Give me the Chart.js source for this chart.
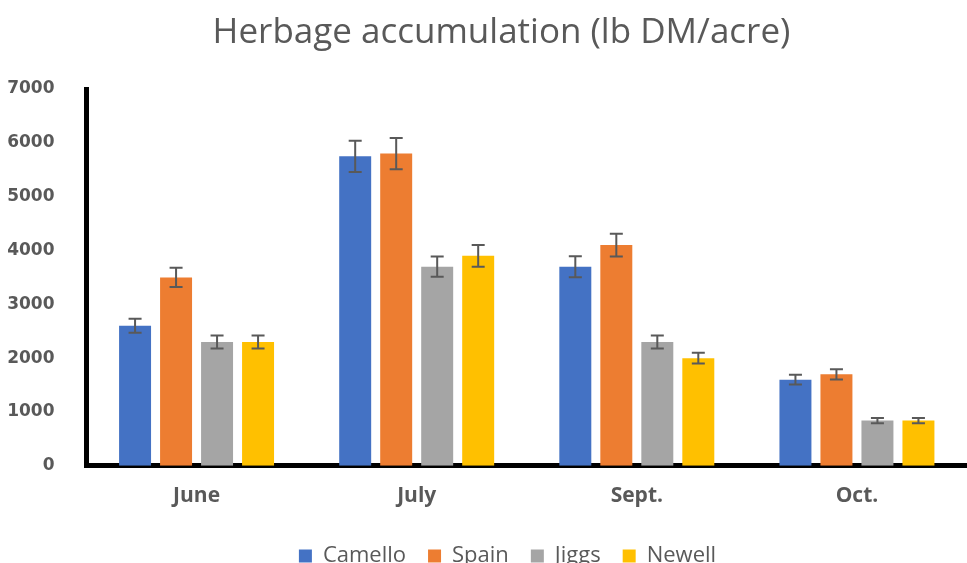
<!DOCTYPE html>
<html>
<head>
<meta charset="utf-8">
<script src="https://cdn.jsdelivr.net/npm/chart.js"></script>
<style>
  html, body { margin: 0; padding: 0; background: #fff; }
  #wrap { width: 967px; height: 563px; }
</style>
</head>
<body>
<div id="wrap"><canvas id="chart"></canvas></div>
<script>
// Datos
const months = ['June', 'July', 'Sept.', 'Oct.'];
const camello = [2600, 5750, 3700, 1600];
const spain = [3500, 5800, 4100, 1700];
const jiggs = [2300, 3700, 2300, 840];
const newell = [2300, 3900, 2000, 840];

// Barras de error (+/-)
const camelloErr = [130, 290, 195, 90];
const spainErr = [180, 290, 210, 95];
const jiggsErr = [120, 190, 120, 50];
const newellErr = [120, 200, 100, 50];

const yTicks = [0, 1000, 2000, 3000, 4000, 5000, 6000, 7000];

const COLORS = {
    blue: '#4472C4',
    orange: '#ED7D31',
    gray: '#A5A5A5',
    gold: '#FFC000',
    text: '#595959',
};

// Dibujar barras de error sobre cada barra
const errorBars = {
    id: 'errorBars',
    afterDatasetsDraw(chart) {
        const ctx = chart.ctx;
        const y = chart.scales.y;
        ctx.save();
        ctx.strokeStyle = '#595959';
        ctx.lineWidth = 2;
        chart.data.datasets.forEach((ds, i) => {
            const meta = chart.getDatasetMeta(i);
            meta.data.forEach((bar, j) => {
                const v = ds.data[j];
                const e = ds.errors[j];
                const top = y.getPixelForValue(v + e);
                const bot = y.getPixelForValue(v - e);
                ctx.beginPath();
                ctx.moveTo(bar.x, top);
                ctx.lineTo(bar.x, bot);
                ctx.moveTo(bar.x - 6.5, top);
                ctx.lineTo(bar.x + 6.5, top);
                ctx.moveTo(bar.x - 6.5, bot);
                ctx.lineTo(bar.x + 6.5, bot);
                ctx.stroke();
            });
        });
        ctx.restore();
    }
};

// Mover título y leyenda un poco (como en Excel)
const shiftBlocks = {
    id: 'shiftBlocks',
    afterLayout(chart) {
        if (chart.titleBlock) {
            chart.titleBlock.left += 18;
            chart.titleBlock.right += 18;
        }
        if (chart.legend) {
            chart.legend.left += 24;
            chart.legend.right += 24;
            chart.legend.top += 4;
            chart.legend.bottom += 4;
        }
    }
};

new Chart(document.getElementById('chart'), {
    type: 'bar',
    data: {
        labels: months,
        datasets: [
            { label: 'Camello', data: camello, errors: camelloErr, backgroundColor: COLORS.blue },
            { label: 'Spain', data: spain, errors: spainErr, backgroundColor: COLORS.orange },
            { label: 'Jiggs', data: jiggs, errors: jiggsErr, backgroundColor: COLORS.gray },
            { label: 'Newell', data: newell, errors: newellErr, backgroundColor: COLORS.gold },
        ]
    },
    options: {
        responsive: true,
        maintainAspectRatio: false,
        animation: false,
        categoryPercentage: 0.745,
        barPercentage: 0.78,
        layout: {
            padding: { left: 0, right: 0, top: 0, bottom: -10 }
        },
        plugins: {
            title: {
                display: true,
                text: 'Herbage accumulation (lb DM/acre)',
                color: COLORS.text,
                font: { family: 'Open Sans', size: 35, weight: 'normal' },
                padding: { top: 12, bottom: 35 }
            },
            legend: {
                position: 'bottom',
                labels: {
                    color: COLORS.text,
                    font: { family: 'Open Sans', size: 22 },
                    boxWidth: 13,
                    boxHeight: 13,
                    padding: 22
                }
            },
            tooltip: { enabled: false }
        },
        scales: {
            x: {
                z: 1,
                grid: { display: false },
                border: { display: true, color: '#000', width: 5 },
                ticks: {
                    color: COLORS.text,
                    font: { family: 'Open Sans', size: 21, weight: 'bold' },
                    padding: 10
                }
            },
            y: {
                z: 1,
                min: yTicks[0],
                max: yTicks[yTicks.length - 1],
                grid: { display: false },
                border: { display: true, color: '#000', width: 5 },
                afterBuildTicks: (scale) => {
                    scale.ticks = yTicks.map(v => ({ value: v }));
                },
                afterFit: (scale) => {
                    scale.width = 86.5;
                },
                ticks: {
                    color: COLORS.text,
                    font: { family: 'DejaVu Sans', size: 17, weight: 'bold' },
                    padding: 24,
                    callback: (value) => String(value)
                }
            }
        }
    },
    plugins: [errorBars, shiftBlocks]
});
</script>
</body>
</html>
